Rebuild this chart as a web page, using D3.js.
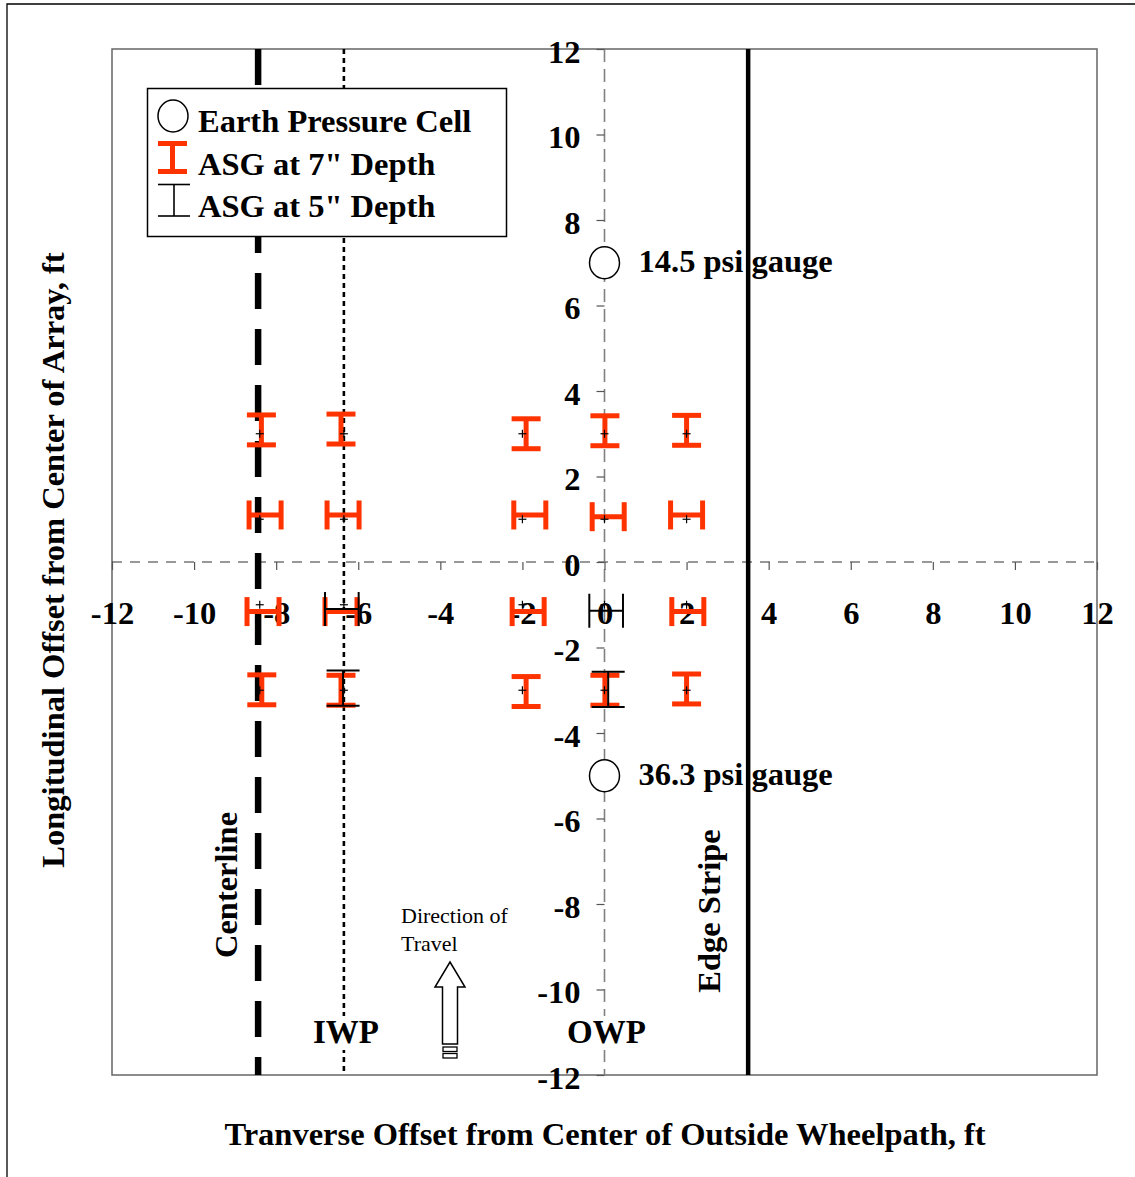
<!DOCTYPE html>
<html><head><meta charset="utf-8">
<script src="https://cdn.jsdelivr.net/npm/d3@7"></script>
<style>
html,body{margin:0;padding:0;background:#fff;}
svg{display:block;}
text{font-family:"Liberation Serif","Times New Roman",serif;}
</style></head>
<body>
<svg id="chart" width="1135" height="1177"></svg>
<script>
// ---- data ----
const xTicks = [-12,-10,-8,-6,-4,-2,0,2,4,6,8,10,12];
const yTicks = [-12,-10,-8,-6,-4,-2,0,2,4,6,8,10,12];
const cellX = [0, 0];
const cellY = [7, -5];
const cellLabels = ["14.5 psi gauge", "36.3 psi gauge"];
// ASG nominal gauge points (+ markers)
const gaugeX = [-8.4, -6.35, -2, 0, 2];
const gaugeY = [3, 1, -1, -3];
// ASG at 7" depth – longitudinal (vertical bars)
const asg7VX = [-8.36, -6.42, -1.91, 0.01, 2.0, -8.35, -6.42, -1.91, 0.01, 2.0];
const asg7VY = [3.09, 3.11, 3.0, 3.07, 3.08, -2.99, -3.0, -3.03, -3.0, -2.97];
// ASG at 7" depth – transverse (horizontal bars)
const asg7HX = [-8.27, -6.37, -1.82, 0.09, 2.0, -8.32, -6.42, -1.86, 2.03];
const asg7HY = [1.1, 1.1, 1.1, 1.06, 1.1, -1.16, -1.16, -1.16, -1.16];
// ASG at 5" depth
const asg5HX = [-6.4, 0.04];
const asg5HY = [-1.1, -1.14];
const asg5VX = [-6.37, 0.09];
const asg5VY = [-2.95, -2.98];
const err7X = 0.39, err7Y = 0.35, err5X = 0.41, err5Y = 0.41;
// reference lines
const centerlineX = -8.44, iwpX = -6.35, owpX = 0, edgeX = 3.5;
const legendLabels = ["Earth Pressure Cell", "ASG at 7\" Depth", "ASG at 5\" Depth"];

// ---- drawing ----
const RED = "#ff3300";
const svg = d3.select("#chart");
const x = d3.scaleLinear().domain([-12,12]).range([112,1097]);
const y = d3.scaleLinear().domain([-12,12]).range([1075,49]);
const bold = 32.5;

// outer frame
svg.append("path").attr("d","M7,1180 L7,4 L1140,4").attr("fill","none").attr("stroke","#000").attr("stroke-width",1.3);
// plot border
svg.append("rect").attr("x",x(-12)).attr("y",y(12)).attr("width",x(12)-x(-12)).attr("height",y(-12)-y(12))
  .attr("fill","none").attr("stroke","#666").attr("stroke-width",1.5);

// zero lines
svg.append("line").attr("x1",x(-12)).attr("x2",x(12)).attr("y1",y(0)).attr("y2",y(0))
  .attr("stroke","#333").attr("stroke-width",1.2).attr("stroke-dasharray","10,8");
svg.append("line").attr("x1",x(owpX)).attr("x2",x(owpX)).attr("y1",y(12)).attr("y2",y(-12))
  .attr("stroke","#808080").attr("stroke-width",1.6).attr("stroke-dasharray","13,7");
// IWP dotted
svg.append("line").attr("x1",x(iwpX)).attr("x2",x(iwpX)).attr("y1",y(12)).attr("y2",y(-12))
  .attr("stroke","#000").attr("stroke-width",2.6).attr("stroke-dasharray","5,4");
// Centerline dashed thick
svg.append("line").attr("x1",x(centerlineX)).attr("x2",x(centerlineX)).attr("y1",y(12)).attr("y2",y(-12))
  .attr("stroke","#000").attr("stroke-width",6.5).attr("stroke-dasharray","36,20");

// axes
const gx = svg.append("g").attr("transform",`translate(0,${y(0)})`)
  .call(d3.axisBottom(x).tickValues(xTicks).tickSize(8).tickPadding(41).tickFormat(d3.format("d")));
const gy = svg.append("g").attr("transform",`translate(${x(0)},0)`)
  .call(d3.axisLeft(y).tickValues(yTicks).tickSize(8).tickPadding(16).tickFormat(d3.format("d")));
[gx,gy].forEach(g=>{
  g.select(".domain").remove();
  g.selectAll(".tick line").attr("stroke","#555").attr("stroke-width",1.2);
  g.selectAll(".tick text").attr("font-size",bold).attr("font-weight","bold").attr("fill","#000")
   .attr("font-family","Liberation Serif, Times New Roman, serif");
});
gx.selectAll(".tick text").attr("dy","0.4em");
gy.selectAll(".tick text").attr("dy","0.4em");
// hyphen-minus like the original
svg.selectAll(".tick text").text(d=>String(d));

// IWP / OWP labels with white background
[[iwpX,"IWP"],[owpX,"OWP"]].forEach(([v,t])=>{
  const g = svg.append("g");
  const tx = g.append("text").attr("x",x(v)+2).attr("y",1043).attr("text-anchor","middle")
    .attr("font-size",33).attr("font-weight","bold").text(t);
  const bb = tx.node().getBBox();
  g.insert("rect","text").attr("x",bb.x-2).attr("y",bb.y+2).attr("width",bb.width+4).attr("height",bb.height-2).attr("fill","#fff");
});

// earth pressure cells
cellX.forEach((cx,i)=>{
  svg.append("ellipse").attr("cx",x(cx)).attr("cy",y(cellY[i])).attr("rx",15).attr("ry",16)
    .attr("fill","#fff").attr("stroke","#000").attr("stroke-width",1.5);
  svg.append("text").attr("x",x(cx)+34).attr("y",y(cellY[i])+9).attr("font-size",bold).attr("font-weight","bold")
    .text(cellLabels[i]);
});

// red 7" bars: vertical
const gRed = svg.append("g").attr("stroke",RED).attr("stroke-width",5).attr("fill","none");
asg7VX.forEach((vx,i)=>{
  const cx = x(vx), y1 = y(asg7VY[i]+err7Y), y2 = y(asg7VY[i]-err7Y);
  gRed.append("line").attr("x1",cx).attr("x2",cx).attr("y1",y1).attr("y2",y2);
  [y1,y2].forEach(yy=>gRed.append("line").attr("x1",cx-14.5).attr("x2",cx+14.5).attr("y1",yy).attr("y2",yy));
});
asg7HX.forEach((hx,i)=>{
  const cy = y(asg7HY[i]), x1 = x(hx-err7X), x2 = x(hx+err7X);
  gRed.append("line").attr("x1",x1).attr("x2",x2).attr("y1",cy).attr("y2",cy);
  [x1,x2].forEach(xx=>gRed.append("line").attr("x1",xx).attr("x2",xx).attr("y1",cy-14.5).attr("y2",cy+14.5));
});
// black 5" bars
const gBlk = svg.append("g").attr("stroke","#000").attr("stroke-width",2).attr("fill","none");
asg5VX.forEach((vx,i)=>{
  const cx = x(vx), y1 = y(asg5VY[i]+err5Y), y2 = y(asg5VY[i]-err5Y);
  gBlk.append("line").attr("x1",cx).attr("x2",cx).attr("y1",y1).attr("y2",y2);
  [y1,y2].forEach(yy=>gBlk.append("line").attr("x1",cx-16.5).attr("x2",cx+16.5).attr("y1",yy).attr("y2",yy));
});
asg5HX.forEach((hx,i)=>{
  const cy = y(asg5HY[i]), x1 = x(hx-err5X), x2 = x(hx+err5X);
  gBlk.append("line").attr("x1",x1).attr("x2",x2).attr("y1",cy).attr("y2",cy);
  [x1,x2].forEach(xx=>gBlk.append("line").attr("x1",xx).attr("x2",xx).attr("y1",cy-17).attr("y2",cy+17));
});
// + markers
const gPlus = svg.append("g").attr("stroke","#000").attr("stroke-width",1.2);
gaugeX.forEach(gxv=>gaugeY.forEach(gyv=>{
  const cx=x(gxv), cy=y(gyv);
  gPlus.append("line").attr("x1",cx-4).attr("x2",cx+4).attr("y1",cy).attr("y2",cy);
  gPlus.append("line").attr("x1",cx).attr("x2",cx).attr("y1",cy-4).attr("y2",cy+4);
}));

// legend
const lg = svg.append("g");
lg.append("rect").attr("x",147.5).attr("y",88.5).attr("width",359).attr("height",148)
  .attr("fill","#fff").attr("stroke","#000").attr("stroke-width",1.5);
legendLabels.forEach((t,i)=>{
  lg.append("text").attr("x",198).attr("y",132+i*42.5).attr("font-size",bold).attr("font-weight","bold").text(t);
});
lg.append("ellipse").attr("cx",173).attr("cy",116).attr("rx",15).attr("ry",16).attr("fill","#fff").attr("stroke","#000").attr("stroke-width",1.5);
const lr = lg.append("g").attr("stroke",RED).attr("stroke-width",5);
lr.append("line").attr("x1",172.5).attr("x2",172.5).attr("y1",143).attr("y2",172);
lr.append("line").attr("x1",158).attr("x2",187).attr("y1",143.5).attr("y2",143.5);
lr.append("line").attr("x1",158).attr("x2",187).attr("y1",171.5).attr("y2",171.5);
const lb = lg.append("g").attr("stroke","#000").attr("stroke-width",1.6);
lb.append("line").attr("x1",174).attr("x2",174).attr("y1",184).attr("y2",216);
lb.append("line").attr("x1",158).attr("x2",190).attr("y1",184.5).attr("y2",184.5);
lb.append("line").attr("x1",158).attr("x2",190).attr("y1",216).attr("y2",216);

// edge stripe (on top of text)
svg.append("line").attr("x1",x(edgeX)).attr("x2",x(edgeX)).attr("y1",y(12)).attr("y2",y(-12))
  .attr("stroke","#000").attr("stroke-width",4.5);

// rotated labels
svg.append("text").attr("transform",`translate(${x(centerlineX)-21},885) rotate(-90)`).attr("text-anchor","middle")
  .attr("font-size",bold).attr("font-weight","bold").text("Centerline");
svg.append("text").attr("transform",`translate(${x(edgeX)-28},911) rotate(-90)`).attr("text-anchor","middle")
  .attr("font-size",bold).attr("font-weight","bold").text("Edge Stripe");

// direction of travel
svg.append("text").attr("x",401).attr("y",923).attr("font-size",22).text("Direction of");
svg.append("text").attr("x",401).attr("y",951).attr("font-size",22).text("Travel");
svg.append("path").attr("d","M450,962 L465,987 L457.5,987 L457.5,1044 L442.5,1044 L442.5,987 L435,987 Z")
  .attr("fill","#fff").attr("stroke","#000").attr("stroke-width",1.5);
svg.append("rect").attr("x",443).attr("y",1047).attr("width",14).attr("height",4.5).attr("fill","#fff").attr("stroke","#000").attr("stroke-width",1.3);
svg.append("rect").attr("x",443).attr("y",1053.5).attr("width",14).attr("height",4.5).attr("fill","#fff").attr("stroke","#000").attr("stroke-width",1.3);

// axis titles
svg.append("text").attr("x",605).attr("y",1145).attr("text-anchor","middle").attr("font-size",bold).attr("font-weight","bold")
  .text("Tranverse Offset from Center of Outside Wheelpath, ft");
svg.append("text").attr("transform","translate(64,560) rotate(-90)").attr("text-anchor","middle")
  .attr("font-size",bold).attr("font-weight","bold").text("Longitudinal Offset from Center of Array, ft");
</script>
</body></html>
